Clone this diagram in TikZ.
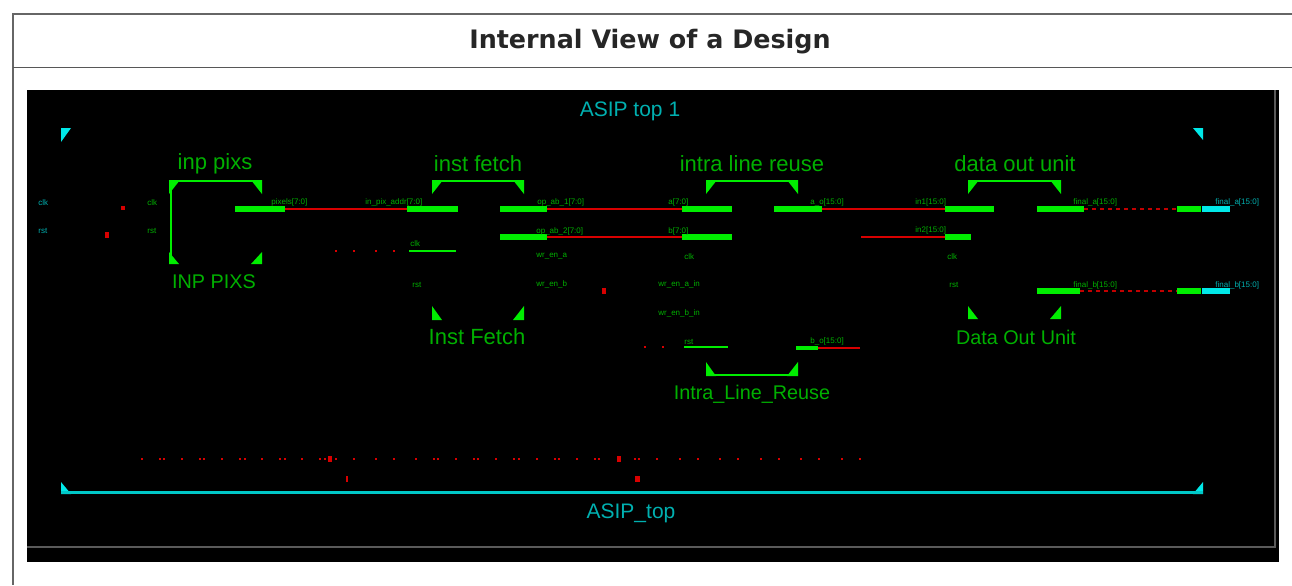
\documentclass[tikz,border=0pt]{standalone}
\usepackage{fontspec}
\setmainfont{Liberation Sans}
\newfontfamily\titlefont{DejaVu Sans}
\usepackage{xcolor}
\definecolor{FrameGray}{HTML}{666666}
\definecolor{ShadeGray}{HTML}{5A5A5A}
\definecolor{PinGreen}{HTML}{00EE00}
\definecolor{TextGreen}{HTML}{00B000}
\definecolor{NetRed}{HTML}{D80000}
\definecolor{TopCyan}{HTML}{00E8E8}
\definecolor{LineCyan}{HTML}{00C8C8}
\definecolor{TextCyan}{HTML}{00B0B0}
\usetikzlibrary{positioning}

\tikzset{
  pinbar/.style={fill=PinGreen, inner sep=0pt, minimum height=3pt},
  pinthin/.style={fill=PinGreen, inner sep=0pt, minimum height=0.9pt},
  pincyan/.style={fill=TopCyan, inner sep=0pt, minimum height=3pt},
  netwire/.style={draw=NetRed, line width=1.2pt},
  netdash/.style={draw=NetRed!90!black, line width=1pt, dash pattern=on 2pt off 2pt},
  blocklabel/.style={text=TextGreen, font=\fontsize{11}{12}\selectfont, inner sep=0pt},
  blocksmall/.style={text=TextGreen, font=\fontsize{9.9}{12}\selectfont, inner sep=0pt},
  toplabel/.style={text=TextCyan, font=\fontsize{10.5}{12}\selectfont, inner sep=0pt},
  pinlabel/.style={text=TextGreen, font=\fontsize{4}{4}\selectfont, inner sep=0pt, anchor=west},
  portlabel/.style={text=TextCyan, font=\fontsize{4}{4}\selectfont, inner sep=0pt, anchor=west}
}

\begin{document}
\begin{tikzpicture}[x=0.5pt, y=-0.5pt]
  \useasboundingbox (0,0) rectangle (1292,585);

  % Card frame, open on the right and at the bottom
  \draw[FrameGray, line width=1pt] (1292,14) -- (13,14) -- (13,585);
  \draw[FrameGray!85!black, line width=0.8pt] (13,67.5) -- (1292,67.5);
  \node[inner sep=0pt, text=black!85, font=\titlefont\bfseries\fontsize{12.7}{16}\selectfont] (title) at (650,42) {Internal View of a Design};

  % Schematic window
  \fill[black] (27,90) rectangle (1279,562);
  \draw[ShadeGray, line width=1pt] (27,547) -- (1274.5,547) -- (1274.5,90);

  % Top level corners and rail
  \fill[TopCyan] (61,128) -- (71,128) -- (61,142) -- cycle;
  \fill[TopCyan] (1193,128) -- (1203,128) -- (1203,140) -- cycle;
  \fill[TopCyan] (61,482) -- (61,494) -- (71,494) -- cycle;
  \fill[TopCyan] (1203,482) -- (1203,494) -- (1193,494) -- cycle;
  \draw[LineCyan, line width=1.2pt] (61,492.5) -- (1203,492.5);
  \node[toplabel] (asiptop) at (630,111) {ASIP top 1};
  \node[toplabel] (asipname) at (631,513) {ASIP\_top};

  % Block corners
  \foreach \l/\r in {169/262, 432/524, 706/798, 968/1061} {
    \fill[PinGreen] (\l,180) -- (\l+11,180) -- (\l,194) -- cycle;
    \fill[PinGreen] (\r,180) -- (\r,194) -- (\r-11,180) -- cycle;
    \draw[PinGreen, line width=1pt] (\l,181) -- (\r,181);
  }
  \foreach \l/\r/\t/\b in {169/262/252/264, 432/524/306/320, 706/798/362/376, 968/1061/306/319} {
    \fill[PinGreen] (\l,\t) -- (\l,\b) -- (\l+10,\b) -- cycle;
    \fill[PinGreen] (\r,\t) -- (\r,\b) -- (\r-11,\b) -- cycle;
  }
  \draw[PinGreen, line width=1pt] (171,181) -- (171,264);
  \draw[PinGreen, line width=1pt] (706,374.5) -- (798,374.5);

  % Block names
  \node[blocklabel] (inpinst) at (215,164) {inp pixs};
  \node[blocksmall] (inpname) at (214,282) {INP PIXS};
  \node[blocklabel] (fetchinst) at (478,164) {inst fetch};
  \node[blocklabel] (fetchname) at (477,337) {Inst Fetch};
  \node[blocklabel] (reuseinst) at (752,164) {intra line reuse};
  \node[blocksmall] (reusename) at (752,394) {Intra\_Line\_Reuse};
  \node[blocklabel] (datainst) at (1015,164) {data out unit};
  \node[blocksmall] (dataname) at (1016,337) {Data Out Unit};

  % Pin bars
  \node[pinbar, minimum width=25pt] (inpout) at (260,209) {};
  \node[pinbar, minimum width=25.5pt] (fetchinA) at (432.5,209) {};
  \node[pinthin, minimum width=23.5pt] (fetchclk) at (432.5,251) {};
  \node[pinbar, minimum width=23.5pt] (fetchoutA) at (523.5,209) {};
  \node[pinbar, minimum width=23.5pt] (fetchoutB) at (523.5,237) {};
  \node[pinbar, minimum width=25pt] (reuseinA) at (707,209) {};
  \node[pinbar, minimum width=25pt] (reuseinB) at (707,237) {};
  \node[pinthin, minimum width=22pt] (reuseclk) at (706,347) {};
  \node[pinbar, minimum width=24pt] (reuseoutA) at (798,209) {};
  \node[pinbar, minimum width=11pt, minimum height=2pt] (reuseoutB) at (807,348) {};
  \node[pinbar, minimum width=24.5pt] (datainA) at (969.5,209) {};
  \node[pinbar, minimum width=13pt] (datainB) at (958,237) {};
  \node[pinbar, minimum width=23.5pt] (dataoutA) at (1060.5,209) {};
  \node[pinbar, minimum width=21.5pt] (dataoutB) at (1058.5,291) {};
  \node[pinbar, minimum width=12pt] (finalAg) at (1189,209) {};
  \node[pincyan, minimum width=14pt, right=0pt of finalAg] (finalAc) {};
  \node[pinbar, minimum width=12pt] (finalBg) at (1189,291) {};
  \node[pincyan, minimum width=14pt, right=0pt of finalBg] (finalBc) {};

  % Nets
  \coordinate (reuseend) at (860,348);
  \coordinate (datastart) at (861,237);
  \draw[netwire] (inpout.east) -- (fetchinA.west);
  \draw[netwire] (fetchoutA.east) -- (reuseinA.west);
  \draw[netwire] (fetchoutB.east) -- (reuseinB.west);
  \draw[netwire] (reuseoutA.east) -- (datainA.west);
  \draw[netwire] (reuseoutB.east) -- (reuseend);
  \draw[netwire] (datastart) -- (datainB.west);
  \draw[netdash] (dataoutA.east) -- (finalAg.west);
  \draw[netdash] (dataoutB.east) -- (finalBg.west);

  % Pin names
  \node[portlabel] (portclk) at (38,203) {clk};
  \node[portlabel] (portrst) at (38,231) {rst};
  \node[pinlabel] (inpclk) at (147,203) {clk};
  \node[pinlabel] (inprst) at (147,231) {rst};
  \node[pinlabel] (lblinpout) at (271,202) {pixels[7:0]};
  \node[pinlabel] (lblfetchA) at (365,202) {in\_pix\_addr[7:0]};
  \node[pinlabel] (lblfetchclk) at (410,243.5) {clk};
  \node[pinlabel] (lblfetchrst) at (412,284.5) {rst};
  \node[pinlabel] (lbloutA) at (537,202) {op\_ab\_1[7:0]};
  \node[pinlabel] (lbloutB) at (536,231) {op\_ab\_2[7:0]};
  \node[pinlabel] (lblwrA) at (536,256.5) {wr\_en\_a};
  \node[pinlabel] (lblwrB) at (536,284.5) {wr\_en\_b};
  \node[pinlabel] (lblreuseA) at (668,202) {a[7:0]};
  \node[pinlabel] (lblreuseB) at (668,231) {b[7:0]};
  \node[pinlabel] (lblreuseclk) at (684,256.5) {clk};
  \node[pinlabel] (lblreusewrA) at (658,284.5) {wr\_en\_a\_in};
  \node[pinlabel] (lblreusewrB) at (658,313) {wr\_en\_b\_in};
  \node[pinlabel] (lblreusest) at (684,341.5) {rst};
  \node[pinlabel] (lblreuseoutA) at (810,202) {a\_o[15:0]};
  \node[pinlabel] (lblreuseoutB) at (810,341.5) {b\_o[15:0]};
  \node[pinlabel] (lbldataA) at (915,202) {in1[15:0]};
  \node[pinlabel] (lbldataB) at (915,230) {in2[15:0]};
  \node[pinlabel] (lbldataclk) at (947,257) {clk};
  \node[pinlabel] (lbldatarst) at (949,284.5) {rst};
  \node[pinlabel] (lbldataoutA) at (1073,202) {final\_a[15:0]};
  \node[pinlabel] (lbldataoutB) at (1073,285) {final\_b[15:0]};
  \node[portlabel] (lblfinalA) at (1215,202) {final\_a[15:0]};
  \node[portlabel] (lblfinalB) at (1215,285) {final\_b[15:0]};

  % Unrouted net stubs
  \fill[NetRed] (121,206) rectangle (125,210);
  \fill[NetRed] (105,232) rectangle (109,238);
  \fill[NetRed] (602,288) rectangle (606,294);
  \fill[NetRed] (346,476) rectangle (347.5,482);
  \fill[NetRed] (634.5,476) rectangle (639.5,482);
  \fill[NetRed] (328,456) rectangle (332,462);
  \fill[NetRed] (617,456) rectangle (621,462);
  \foreach \x in {336,354,376,394} \fill[NetRed] (\x-1,250) rectangle (\x+1,252);
  \foreach \x in {645,663} \fill[NetRed] (\x-1,346) rectangle (\x+1,348);
  \foreach \x in {142,160,164,182,200,204,222,240,245,262,280,285,302,320,325,336,354,376,394,416,434,438,456,474,478,496,514,519,537,555,559,577,595,599,635,639,657,680,698,720,738,761,779,801,819,842,860}
    \fill[NetRed] (\x-1,458) rectangle (\x+1,460);
\end{tikzpicture}
\end{document}
